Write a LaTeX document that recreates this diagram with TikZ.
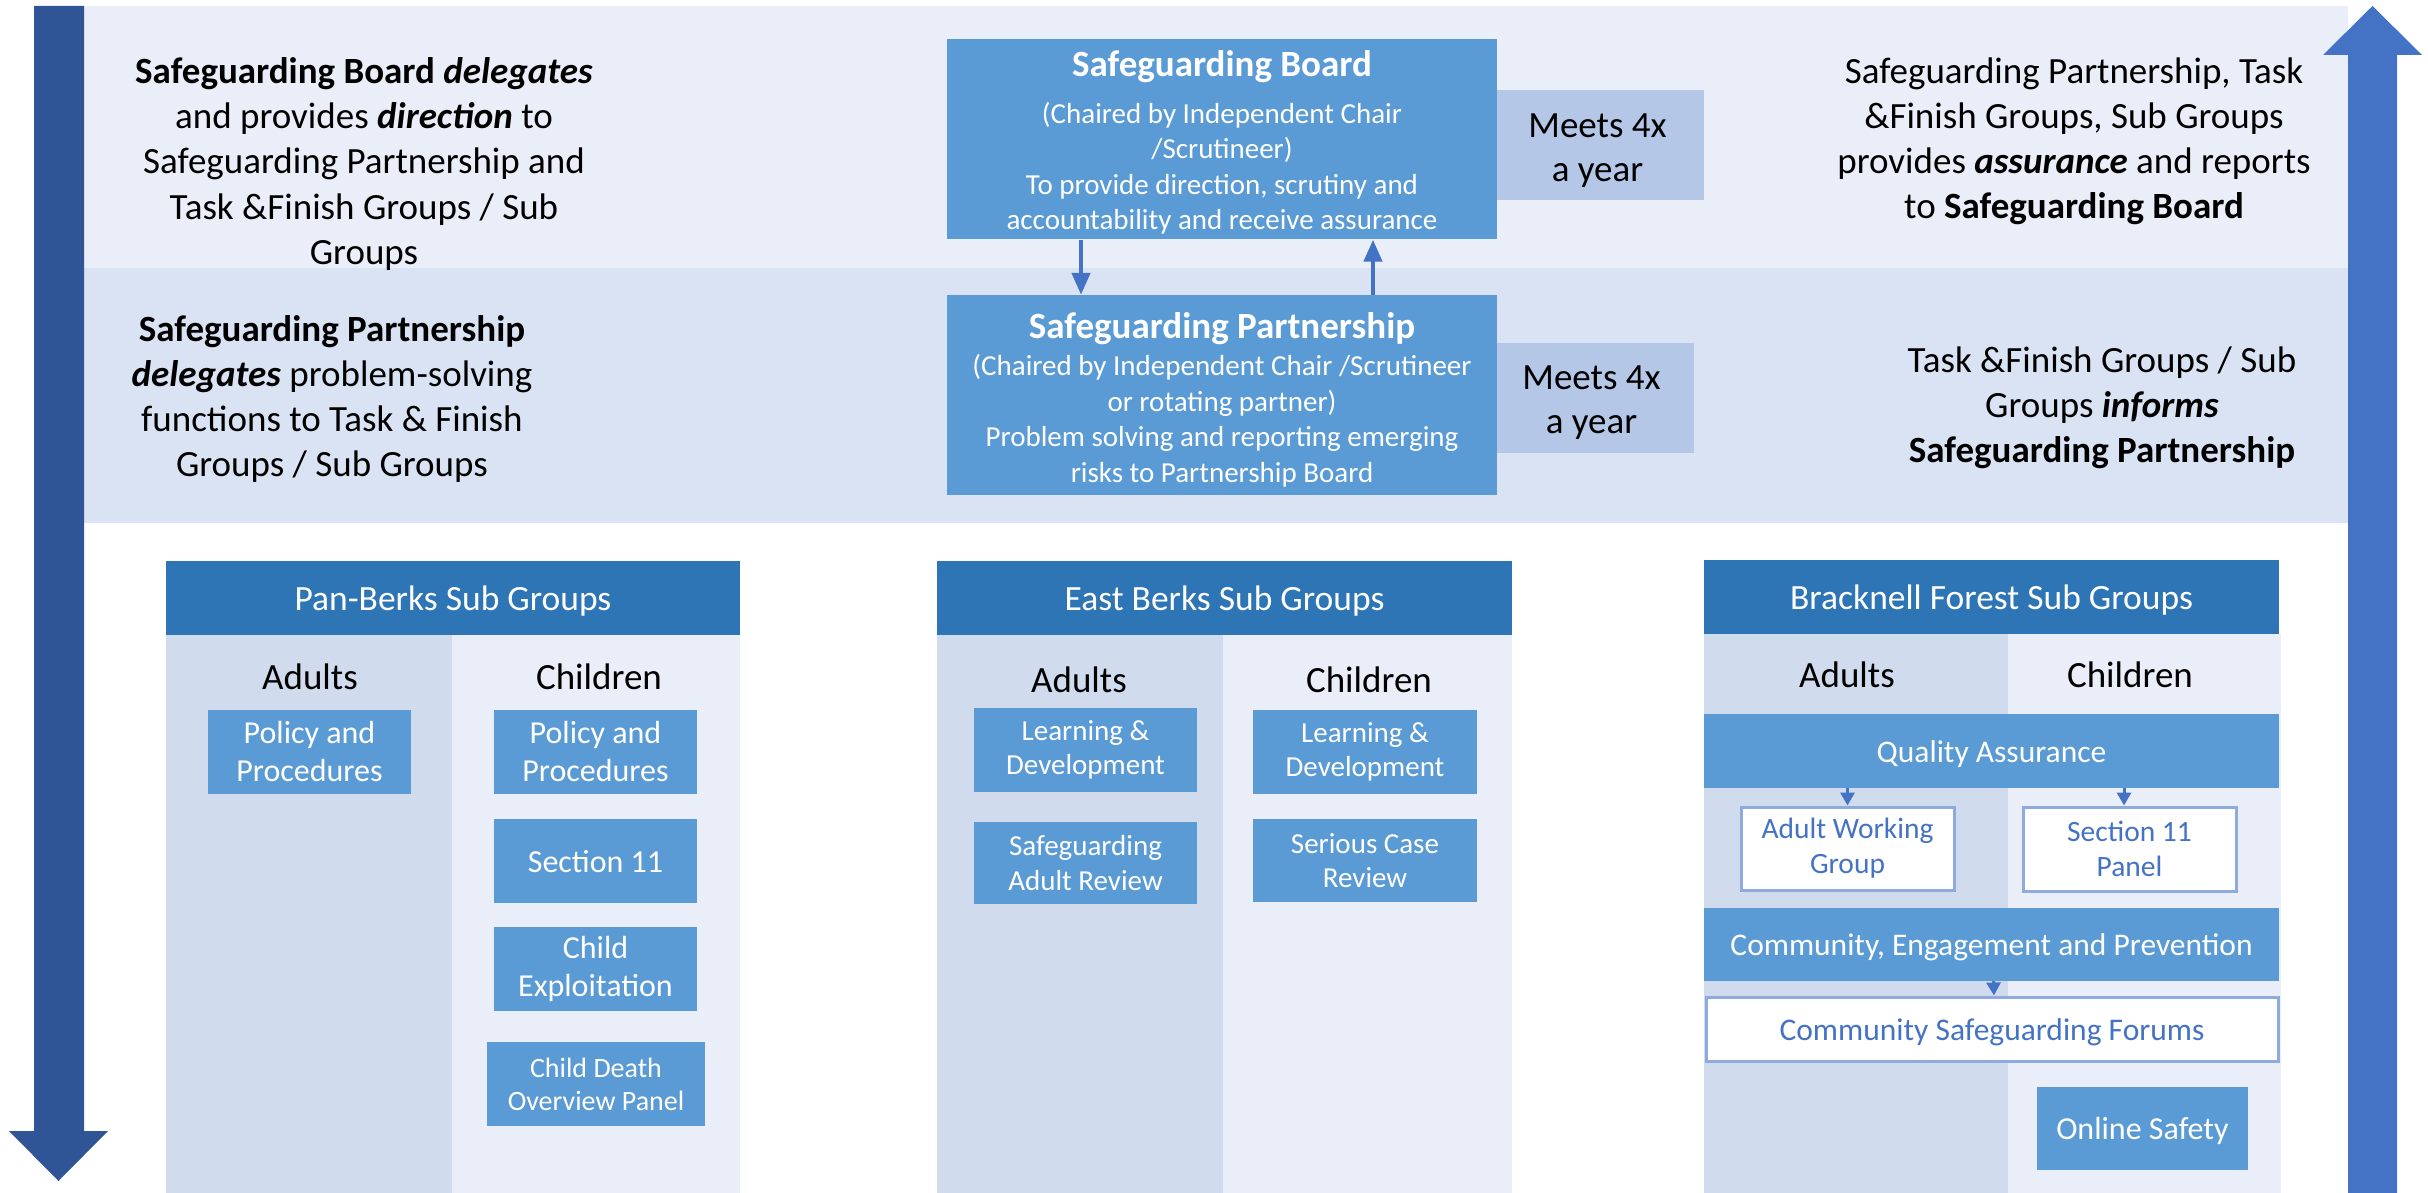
\documentclass[tikz,border=0pt]{standalone}
\usepackage{fontspec}
\setmainfont{Carlito}
\usetikzlibrary{arrows.meta}
\definecolor{darkarrow}{HTML}{2F5597}
\definecolor{midarrow}{HTML}{4472C4}
\definecolor{bandlight}{HTML}{E9EEF8}
\definecolor{bandmid}{HTML}{DAE3F3}
\definecolor{adultcol}{HTML}{D0DCEE}
\definecolor{headblue}{HTML}{2E75B6}
\definecolor{boxblue}{HTML}{5B9BD5}
\definecolor{meetsblue}{HTML}{B4C7E7}
\definecolor{outline}{HTML}{8FAADC}
\begin{document}
\begin{tikzpicture}[x=1pt,y=-1pt,
  sidetext/.style={align=center, font=\fontsize{37}{45}\selectfont, inner sep=0pt},
  mainbox/.style={fill=boxblue, inner sep=0pt, minimum width=550pt, minimum height=200pt},
  maintext/.style={text=white, align=center, inner sep=0pt, font=\fontsize{29}{35.5}\selectfont},
  meetsbox/.style={fill=meetsblue, inner sep=0pt, minimum height=110pt},
  meetstext/.style={align=center, inner sep=0pt, font=\fontsize{37}{44}\selectfont},
  header/.style={fill=headblue, text=white, inner sep=0pt, minimum width=575pt, minimum height=74pt, font=\fontsize{35.5}{43}\selectfont, text height=25pt, text depth=0pt},
  colhead/.style={inner sep=0pt, font=\fontsize{37}{44}\selectfont},
  subbox/.style={fill=boxblue, text=white, align=center, inner sep=0pt, minimum height=84pt, font=\fontsize{32}{38}\selectfont},
  oneline/.style={text height=#1, text depth=0pt},
  outbox/.style={fill=white, draw=outline, line width=3pt, text=midarrow, align=center, inner sep=0pt, font=\fontsize{29.5}{35}\selectfont},
  bigconn/.style={draw=midarrow, line width=4.5pt, -{Triangle[length=22pt,width=18pt]}},
  smallconn/.style={draw=midarrow, line width=3pt, -{Triangle[length=13pt,width=14pt]}},
]
\useasboundingbox (0,0) rectangle (2428,1193);
% background bands
\fill[bandlight] (84,6) rectangle (2348,268);
\fill[bandmid] (84,268) rectangle (2348,523);
% side block arrows
\fill[darkarrow] (34,6) -- (84,6) -- (84,1131) -- (108,1131) -- (58.5,1181) -- (9,1131) -- (34,1131) -- cycle;
\fill[midarrow] (2348,1193) -- (2348,55) -- (2323,55) -- (2372.5,6) -- (2422,55) -- (2397,55) -- (2397,1193) -- cycle;
% columns
\fill[adultcol] (166,635) rectangle (452,1193);
\fill[bandlight] (452,635) rectangle (740,1193);
\fill[adultcol] (937,635) rectangle (1223,1193);
\fill[bandlight] (1223,635) rectangle (1512,1193);
\fill[adultcol] (1704,634) rectangle (2008,1193);
\fill[bandlight] (2008,634) rectangle (2281,1193);

% side texts
\node[sidetext] (ltop) at (364,164) {\textbf{Safeguarding Board \textit{delegates}}\\and provides \textbf{\textit{direction}} to\\Safeguarding Partnership and\\Task \&Finish Groups / Sub\\Groups};
\node[sidetext] (rtop) at (2074,141) {Safeguarding Partnership, Task\\\&Finish Groups, Sub Groups\\provides \textbf{\textit{assurance}} and reports\\to \textbf{Safeguarding Board}};
\node[sidetext] (lmid) at (332,398.5) {\textbf{Safeguarding Partnership}\\\textbf{\textit{delegates}} problem-solving\\functions to Task \& Finish\\Groups / Sub Groups};
\node[sidetext] (rmid) at (2102,408) {Task \&Finish Groups / Sub\\Groups \textbf{\textit{informs}}\\\textbf{Safeguarding Partnership}};

% main boxes
\node[mainbox] (board) at (1222,139.5) {};
\node[maintext] (boardtxt) at ([yshift=-3pt]board.center) {{\fontsize{37}{44}\selectfont\bfseries Safeguarding Board}\\[11pt](Chaired by Independent Chair\\/Scrutineer)\\To provide direction, scrutiny and\\accountability and receive assurance};
\node[mainbox] (partner) at (1222,395) {};
\node[maintext] (partnertxt) at ([yshift=-5pt]partner.center) {{\fontsize{37}{44}\selectfont\bfseries Safeguarding Partnership}\\[1.5pt](Chaired by Independent Chair /Scrutineer\\or rotating partner)\\Problem solving and reporting emerging\\risks to Partnership Board};
\node[meetsbox, minimum width=207pt] (meets1) at (1600.5,145) {};
\node[meetstext] (meets1txt) at ([xshift=-3pt,yshift=-6pt]meets1.center) {Meets 4x\\a year};
\node[meetsbox, minimum width=197pt] (meets2) at (1595.5,398) {};
\node[meetstext] (meets2txt) at ([xshift=-4pt,yshift=-5pt]meets2.center) {Meets 4x\\a year};
\draw[bigconn] ([xshift=-141pt]board.south) -- ([xshift=-141pt]partner.north);
\draw[bigconn] ([xshift=151pt]partner.north) -- ([xshift=151pt]board.south);

% Pan-Berks
\node[header, minimum width=574pt] (pbhead) at (453,598) {Pan-Berks Sub Groups};
\node[colhead] (pbad) at (310,677) {Adults};
\node[colhead] (pbch) at (599,677) {Children};
\node[subbox, minimum width=203pt] (pbapp) at (309.5,752) {Policy and\\Procedures};
\node[subbox, minimum width=203pt] (pbcpp) at (595.5,752) {Policy and\\Procedures};
\node[subbox, minimum width=203pt, oneline=22.5pt] (pbs11) at (595.5,861) {Section 11};
\node[subbox, minimum width=203pt] (pbce) at (595.5,969) {Child\\Exploitation};
\node[subbox, minimum width=218pt, font=\fontsize{28}{33}\selectfont] (pbcdop) at (596,1084) {Child Death\\Overview Panel};

% East Berks
\node[header] (ebhead) at (1224.5,598) {East Berks Sub Groups};
\node[colhead] (ebad) at (1079,680) {Adults};
\node[colhead] (ebch) at (1369,680) {Children};
\node[subbox, minimum width=223pt, font=\fontsize{29}{34.5}\selectfont] (ebald) at (1085.5,750) {Learning \&\\Development};
\node[subbox, minimum width=223pt, minimum height=82pt, font=\fontsize{29}{34.5}\selectfont] (ebsar) at (1085.5,863) {Safeguarding\\Adult Review};
\node[subbox, minimum width=224pt, font=\fontsize{29}{34.5}\selectfont] (ebcld) at (1365,752) {Learning \&\\Development};
\node[subbox, minimum width=224pt, minimum height=83pt, font=\fontsize{29}{34.5}\selectfont] (ebscr) at (1365,860.5) {Serious Case\\Review};

% Bracknell Forest
\node[header] (bfhead) at (1991.5,597) {Bracknell Forest Sub Groups};
\node[colhead] (bfad) at (1847,675) {Adults};
\node[colhead] (bfch) at (2130,675) {Children};
\node[subbox, minimum width=575pt, minimum height=74pt, font=\fontsize{31.5}{37}\selectfont, oneline=22pt] (bfqa) at (1991.5,751) {Quality Assurance};
\node[outbox, minimum width=213pt, minimum height=83pt] (bfawg) at (1847.5,848.5) {Adult Working\\Group};
\node[outbox, minimum width=213pt, minimum height=84pt] (bfs11) at (2129.5,849) {Section 11\\Panel};
\node[subbox, minimum width=575pt, minimum height=73pt, font=\fontsize{31.5}{37}\selectfont, oneline=22pt] (bfcep) at (1991.5,944.5) {Community, Engagement and Prevention};
\node[outbox, minimum width=572pt, minimum height=64pt, font=\fontsize{31.5}{37}\selectfont, oneline=22pt] (bfcsf) at (1992,1029) {Community Safeguarding Forums};
\node[subbox, minimum width=211pt, minimum height=83pt, font=\fontsize{32}{38}\selectfont, oneline=22.5pt] (bfos) at (2142.5,1128.5) {Online Safety};
\draw[smallconn] (bfqa.south -| bfawg.north) -- (bfawg.north);
\draw[smallconn] ([xshift=-5.5pt]bfs11.north |- bfqa.south) -- ([xshift=-5.5pt]bfs11.north);
\draw[smallconn] ([xshift=2pt]bfcep.south) -- ([xshift=2pt]bfcsf.north);
\end{tikzpicture}
\end{document}
